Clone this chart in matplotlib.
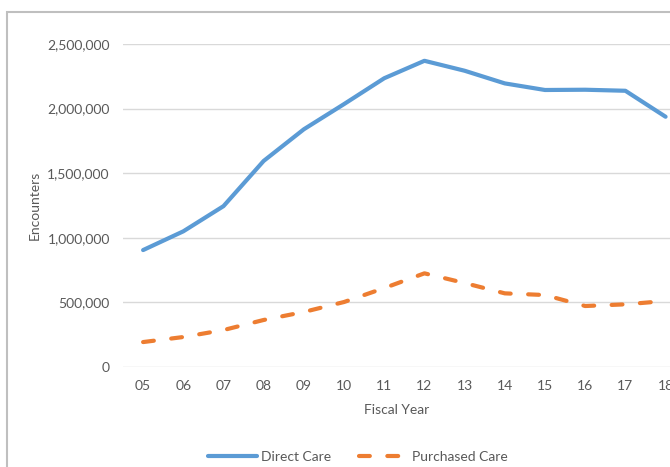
import matplotlib.pyplot as plt
from matplotlib.patches import Rectangle
from matplotlib.ticker import FuncFormatter

years = ['05', '06', '07', '08', '09', '10', '11', '12', '13', '14', '15', '16', '17', '18']
direct_care = [905000, 1050000, 1245000, 1595000, 1840000, 2035000, 2235000,
               2370000, 2293000, 2195000, 2144000, 2146000, 2138000, 1937000]
purchased_care = [193000, 232000, 286000, 364000, 426000, 503000, 611000,
                  725000, 650000, 570000, 557000, 472000, 485000, 511000]

plt.rcParams['font.family'] = ['Lato', 'DejaVu Sans']
text_color = '#595959'

fig = plt.figure(figsize=(6.7, 4.67), dpi=100)
# chart frame (cut off at right and bottom, like the reference)
fig.patches.append(Rectangle((7 / 670, -0.1), 1.2, 1 - 12 / 467 + 0.1,
                             transform=fig.transFigure, fill=False,
                             edgecolor='#BFBFBF', linewidth=1.5))

ax = fig.add_axes([123 / 670, 1 - 367 / 467, 1 - 123 / 670, (367 - 44) / 467])
x = range(len(years))
ax.plot(x, direct_care, color='#5B9BD5', linewidth=3, label='Direct Care',
        solid_capstyle='round')
ax.plot(x, purchased_care, color='#ED7D31', linewidth=3, label='Purchased Care',
        linestyle=(0, (2.6, 4.2)), dash_capstyle='round')

ax.set_xlim(-0.5, 13.11)
ax.set_ylim(0, 2500000)
ax.set_yticks(range(0, 2500001, 500000))
ax.yaxis.set_major_formatter(FuncFormatter(lambda v, p: f'{int(v):,}'))
ax.set_xticks(list(x))
ax.set_xticklabels(years)
ax.grid(axis='y', color='#D9D9D9', linewidth=1)
ax.set_axisbelow(True)
for s in ax.spines.values():
    s.set_visible(False)
ax.tick_params(length=0, labelsize=10, colors=text_color, pad=9)
ax.tick_params(axis='y', pad=9.5)

ax.set_ylabel('Encounters', fontsize=10, color=text_color)
ax.yaxis.set_label_coords(-0.15, 0.5)
ax.set_xlabel('Fiscal Year', fontsize=10, color=text_color, labelpad=9)

fig.legend(loc='center', bbox_to_anchor=(358 / 670, 1 - 457 / 467), ncol=2,
           frameon=False, fontsize=10, labelcolor=text_color,
           handlelength=3.5, columnspacing=2.0, handletextpad=0.3)

fig.savefig('out.png', dpi=100)
